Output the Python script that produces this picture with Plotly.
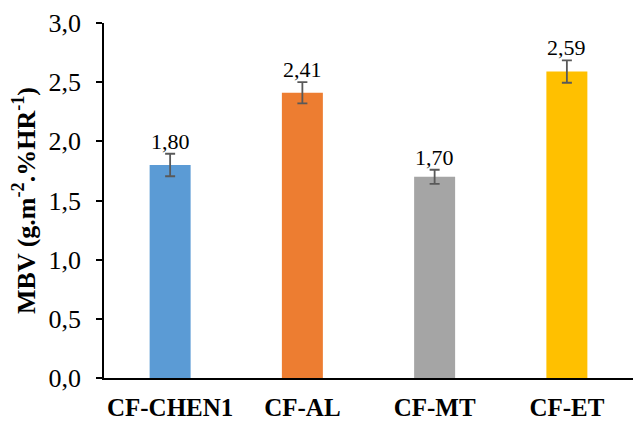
import plotly.graph_objects as go

categories = ["CF-CHEN1", "CF-AL", "CF-MT", "CF-ET"]
values = [1.80, 2.41, 1.70, 2.59]
errors = [0.095, 0.09, 0.06, 0.095]
value_labels = ["1,80", "2,41", "1,70", "2,59"]
colors = ["#5B9BD5", "#ED7D31", "#A5A5A5", "#FFC000"]
y_ticks = [0, 0.5, 1.0, 1.5, 2.0, 2.5, 3.0]

serif = "Liberation Serif, Times New Roman, serif"

fig = go.Figure()
fig.add_trace(go.Bar(
    x=categories, y=values, marker=dict(color=colors, line=dict(width=0)),
    error_y=dict(type="data", array=errors, visible=True, color="#595959", thickness=1.8, width=5),
    showlegend=False,
))

for c, v, e, t in zip(categories, values, errors, value_labels):
    fig.add_annotation(x=c, y=v + e, text=t, showarrow=False, yanchor="bottom", yshift=-2,
                       font=dict(family=serif, size=22, color="#000000"))

# page body has an 8px default margin: figure is sized/offset to compensate
fig.update_layout(
    width=636, height=415,
    margin=dict(l=96, r=11, t=15, b=45, autoexpand=False),
    plot_bgcolor="white", paper_bgcolor="white",
    bargap=0.69,
    separators=",.",
    font=dict(family=serif, color="#000000"),
    xaxis=dict(showline=True, linecolor="#000000", linewidth=1.5, ticks="outside", ticklen=6,
               tickcolor="rgba(0,0,0,0)", automargin=False, range=[-0.5, 3.5],
               tickfont=dict(family=serif, size=25, color="#000000"),
               tickprefix="<b>", ticksuffix="</b>"),
    yaxis=dict(range=[0, 3.0], tickvals=y_ticks, tickformat=".1f", showgrid=False, zeroline=False,
               showline=True, linecolor="#000000", linewidth=1.5, ticks="outside", ticklen=6,
               tickcolor="#000000", tickwidth=1.5, automargin=False, ticklabelstandoff=10,
               tickfont=dict(family=serif, size=26, color="#000000"),
               title=dict(text="<b>MBV (g.m<sup>-2</sup>.%HR<sup>-1</sup>)</b>",
                          font=dict(family=serif, size=26, color="#000000"), standoff=6)),
)

fig.write_html("out.html")
